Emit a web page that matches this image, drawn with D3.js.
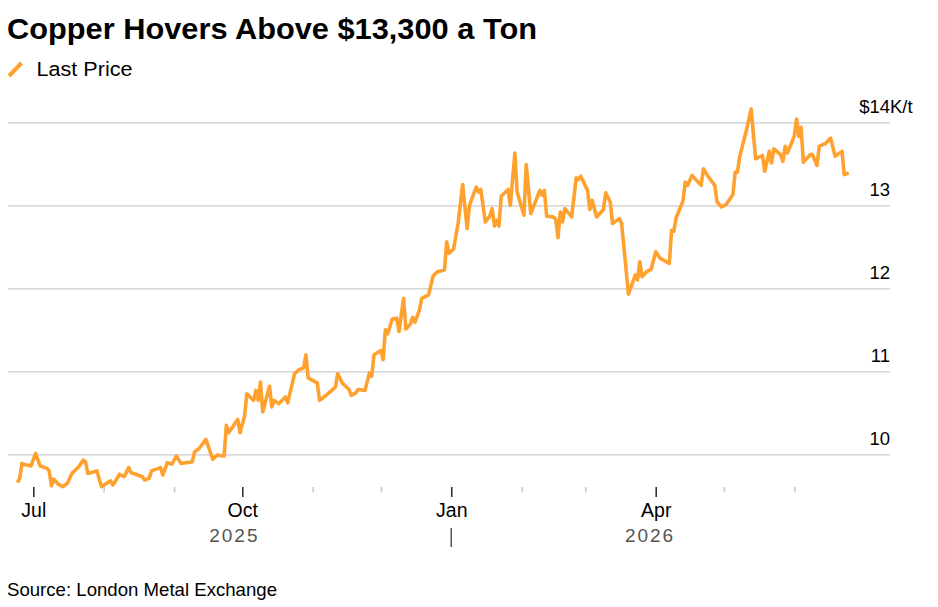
<!DOCTYPE html>
<html>
<head>
<meta charset="utf-8">
<script src="https://cdn.jsdelivr.net/npm/d3@7"></script>
<style>
  html, body { margin: 0; padding: 0; background: #fff; }
  svg { display: block; font-family: "Liberation Sans", Arial, Helvetica, sans-serif; }
</style>
</head>
<body>
<svg id="chart" width="938" height="607"></svg>
<script>
// ---- Data ----
const dates = [
  "2025-06-24","2025-06-25","2025-06-26","2025-06-28","2025-06-30",
  "2025-07-02","2025-07-04","2025-07-07","2025-07-08","2025-07-09","2025-07-10","2025-07-12","2025-07-14","2025-07-16","2025-07-18",
  "2025-07-21","2025-07-23","2025-07-24","2025-07-25","2025-07-29","2025-07-31",
  "2025-08-04","2025-08-05","2025-08-06","2025-08-08","2025-08-10","2025-08-12","2025-08-13","2025-08-15","2025-08-18","2025-08-19",
  "2025-08-21","2025-08-22","2025-08-26","2025-08-27","2025-08-29","2025-08-31",
  "2025-09-02","2025-09-04","2025-09-09","2025-09-10","2025-09-12","2025-09-15","2025-09-18","2025-09-20","2025-09-23","2025-09-24",
  "2025-09-25","2025-09-27","2025-09-29","2025-09-30",
  "2025-10-02","2025-10-03","2025-10-06","2025-10-07","2025-10-08","2025-10-09","2025-10-10","2025-10-13","2025-10-14","2025-10-15",
  "2025-10-17","2025-10-20","2025-10-21","2025-10-24","2025-10-26","2025-10-28","2025-10-29","2025-10-30",
  "2025-11-03","2025-11-04","2025-11-06","2025-11-11","2025-11-12","2025-11-14","2025-11-17","2025-11-18","2025-11-20","2025-11-21",
  "2025-11-24","2025-11-26","2025-11-27","2025-11-28",
  "2025-12-01","2025-12-02","2025-12-03","2025-12-04","2025-12-06","2025-12-08","2025-12-09","2025-12-11","2025-12-12","2025-12-14",
  "2025-12-15","2025-12-16","2025-12-18","2025-12-19","2025-12-22","2025-12-24","2025-12-26","2025-12-29","2025-12-30","2025-12-31",
  "2026-01-02","2026-01-04","2026-01-06","2026-01-08","2026-01-09","2026-01-12","2026-01-13","2026-01-14","2026-01-16","2026-01-18",
  "2026-01-19","2026-01-20","2026-01-21","2026-01-22","2026-01-23","2026-01-26","2026-01-27","2026-01-29","2026-01-30",
  "2026-02-02","2026-02-03","2026-02-05","2026-02-07","2026-02-09","2026-02-10","2026-02-11","2026-02-12","2026-02-15","2026-02-16",
  "2026-02-17","2026-02-18","2026-02-19","2026-02-20","2026-02-23","2026-02-25","2026-02-26","2026-02-27",
  "2026-03-02","2026-03-03","2026-03-04","2026-03-06","2026-03-09","2026-03-10","2026-03-12","2026-03-13","2026-03-16","2026-03-17",
  "2026-03-20","2026-03-23","2026-03-24","2026-03-25","2026-03-26","2026-03-28","2026-03-30",
  "2026-04-01","2026-04-03","2026-04-07","2026-04-08","2026-04-09","2026-04-10","2026-04-13","2026-04-14","2026-04-15","2026-04-17",
  "2026-04-21","2026-04-22","2026-04-24","2026-04-27","2026-04-28","2026-04-30",
  "2026-05-02","2026-05-05","2026-05-06","2026-05-07","2026-05-08","2026-05-11","2026-05-13","2026-05-15","2026-05-18","2026-05-19",
  "2026-05-21","2026-05-22","2026-05-23","2026-05-26","2026-05-27","2026-05-28","2026-05-29",
  "2026-06-01","2026-06-02","2026-06-03","2026-06-04","2026-06-05","2026-06-08","2026-06-09","2026-06-11","2026-06-12","2026-06-15",
  "2026-06-17","2026-06-19","2026-06-22","2026-06-23","2026-06-25"
];
const prices = [
  9660,9710,9890,9870,9860,
  10010,9860,9830,9800,9620,9700,9640,9610,9650,9770,
  9850,9930,9910,9770,9800,9610,
  9680,9630,9670,9760,9730,9840,9780,9760,9730,9690,
  9710,9800,9840,9750,9900,9880,
  9980,9890,9910,10030,10070,10180,9940,9990,9980,10350,
  10260,10340,10420,10260,
  10460,10730,10650,10770,10650,10870,10510,10820,10570,10650,
  10610,10690,10620,10970,11020,11040,11200,10920,
  10860,10650,10690,10810,10970,10860,10780,10710,10740,10780,
  10770,10980,10940,11200,
  11250,11140,11500,11450,11630,11640,11480,11880,11510,11570,
  11650,11590,11740,11880,11920,12150,12200,12220,12560,12420,
  12470,12780,13250,12720,13000,13220,13160,13190,12800,12870,
  12960,12750,12820,12750,13110,13190,13000,13630,13160,
  12880,13490,12900,13040,13180,13120,13180,12870,12860,12830,
  12610,12920,12800,12960,12860,13330,13310,13350,
  13180,12950,13060,12860,12950,13150,13040,12780,12840,12780,
  11930,12160,12100,12320,12140,12200,12230,
  12440,12360,12300,12700,12690,12850,13050,13280,13240,13360,
  13240,13440,13350,13240,13040,12980,
  13010,13130,13400,13400,13590,13910,14160,13560,13600,13410,
  13650,13510,13680,13610,13530,13710,13630,
  13830,14040,13830,13940,13520,13610,13610,13480,13710,13750,
  13810,13590,13650,13370,13390
];
const yTicks = [10000, 11000, 12000, 13000, 14000];
const monthNames = ["Jan","Feb","Mar","Apr","May","Jun","Jul","Aug","Sep","Oct","Nov","Dec"];
const quarterMonths = [0, 3, 6, 9];
const yearLabels = ["2025", "2026"];
const titleText = "Copper Hovers Above $13,300 a Ton";
const legendText = "Last Price";
const sourceText = "Source: London Metal Exchange";

// ---- Setup ----
const svg = d3.select("#chart");
const parse = d3.utcParse("%Y-%m-%d");
const data = dates.map((d, i) => ({ date: parse(d), value: prices[i] }));

const LINE_COLOR = "#ffa12e";
const gridLeft = 8, gridRight = 890;

const x = d3.scaleUtc()
  .domain([Date.UTC(2025, 6, 1), Date.UTC(2026, 3, 1)])
  .range([33.3, 655.7]);
const y = d3.scaleLinear().domain([10000, 14000]).range([454.3, 122.3]);

// ---- Title & legend ----
svg.append("text")
  .attr("x", 7).attr("y", 39)
  .attr("font-size", 30).attr("font-weight", "bold").attr("fill", "#000")
  .attr("textLength", 530).attr("lengthAdjust", "spacingAndGlyphs")
  .text(titleText);

svg.append("line")
  .attr("x1", 9).attr("y1", 76).attr("x2", 21.5).attr("y2", 63)
  .attr("stroke", LINE_COLOR).attr("stroke-width", 4);
svg.append("text")
  .attr("x", 36.5).attr("y", 75.5)
  .attr("font-size", 20).attr("fill", "#000")
  .attr("textLength", 96).attr("lengthAdjust", "spacingAndGlyphs")
  .text(legendText);

// ---- Y grid + labels ----
const yAxis = svg.append("g")
  .attr("transform", `translate(${gridLeft},0)`)
  .call(d3.axisRight(y).tickValues(yTicks).tickSize(gridRight - gridLeft)
    .tickFormat(d => (d === 14000 ? "$" : "") + d3.format("d")(d / 1000)));
yAxis.select(".domain").remove();
yAxis.selectAll(".tick line").attr("stroke", "#cccccc").attr("stroke-width", 1.2);
yAxis.selectAll(".tick text")
  .attr("x", gridRight - gridLeft).attr("dy", 0).attr("y", -10)
  .attr("text-anchor", "end")
  .attr("font-size", 18.5).attr("font-family", null).attr("fill", "#000");
yAxis.selectAll(".tick").filter(d => d === 14000)
  .append("text")
  .attr("x", gridRight - gridLeft).attr("y", -10)
  .attr("text-anchor", "start").attr("font-size", 18.5).attr("fill", "#000")
  .text("K/t");

// ---- X axis ----
const months = d3.utcMonth.range(Date.UTC(2025, 6, 1), Date.UTC(2026, 6, 1));
const isMajor = d => quarterMonths.includes(d.getUTCMonth());
const xAxis = svg.append("g")
  .attr("transform", "translate(0,487)")
  .call(d3.axisBottom(x).tickValues(months).tickSize(10)
    .tickFormat(d => isMajor(d) ? monthNames[d.getUTCMonth()] : ""));
xAxis.select(".domain").remove();
xAxis.selectAll(".tick line")
  .attr("stroke", d => isMajor(d) ? "#333333" : "#cccccc")
  .attr("stroke-width", 1.6)
  .attr("y2", d => isMajor(d) ? 10 : 5.5);
xAxis.selectAll(".tick text")
  .attr("y", 30).attr("dy", 0)
  .attr("font-size", 19.5).attr("font-family", null).attr("fill", "#000");

// Year labels centred over each year's span of data
const firstDate = data[0].date, lastDate = data[data.length - 1].date;
const jan = new Date(Date.UTC(2026, 0, 1));
const yearSpans = [[firstDate, jan], [jan, lastDate]];
svg.append("g").selectAll("text")
  .data(yearLabels)
  .join("text")
  .attr("x", (d, i) => (x(yearSpans[i][0]) + x(yearSpans[i][1])) / 2)
  .attr("y", 542)
  .attr("text-anchor", "middle")
  .attr("font-size", 19).attr("letter-spacing", 2).attr("fill", "#555555")
  .text(d => d);
svg.append("line")
  .attr("x1", x(jan)).attr("x2", x(jan))
  .attr("y1", 528).attr("y2", 547)
  .attr("stroke", "#555555").attr("stroke-width", 1.5);

// ---- Price line ----
svg.append("path")
  .datum(data)
  .attr("fill", "none")
  .attr("stroke", LINE_COLOR)
  .attr("stroke-width", 3.6)
  .attr("stroke-linejoin", "round")
  .attr("stroke-linecap", "butt")
  .attr("d", d3.line().x(d => x(d.date)).y(d => y(d.value)));

// ---- Source ----
svg.append("text")
  .attr("x", 7).attr("y", 596)
  .attr("font-size", 18.5).attr("fill", "#000")
  .attr("textLength", 270).attr("lengthAdjust", "spacingAndGlyphs")
  .text(sourceText);
</script>
</body>
</html>
